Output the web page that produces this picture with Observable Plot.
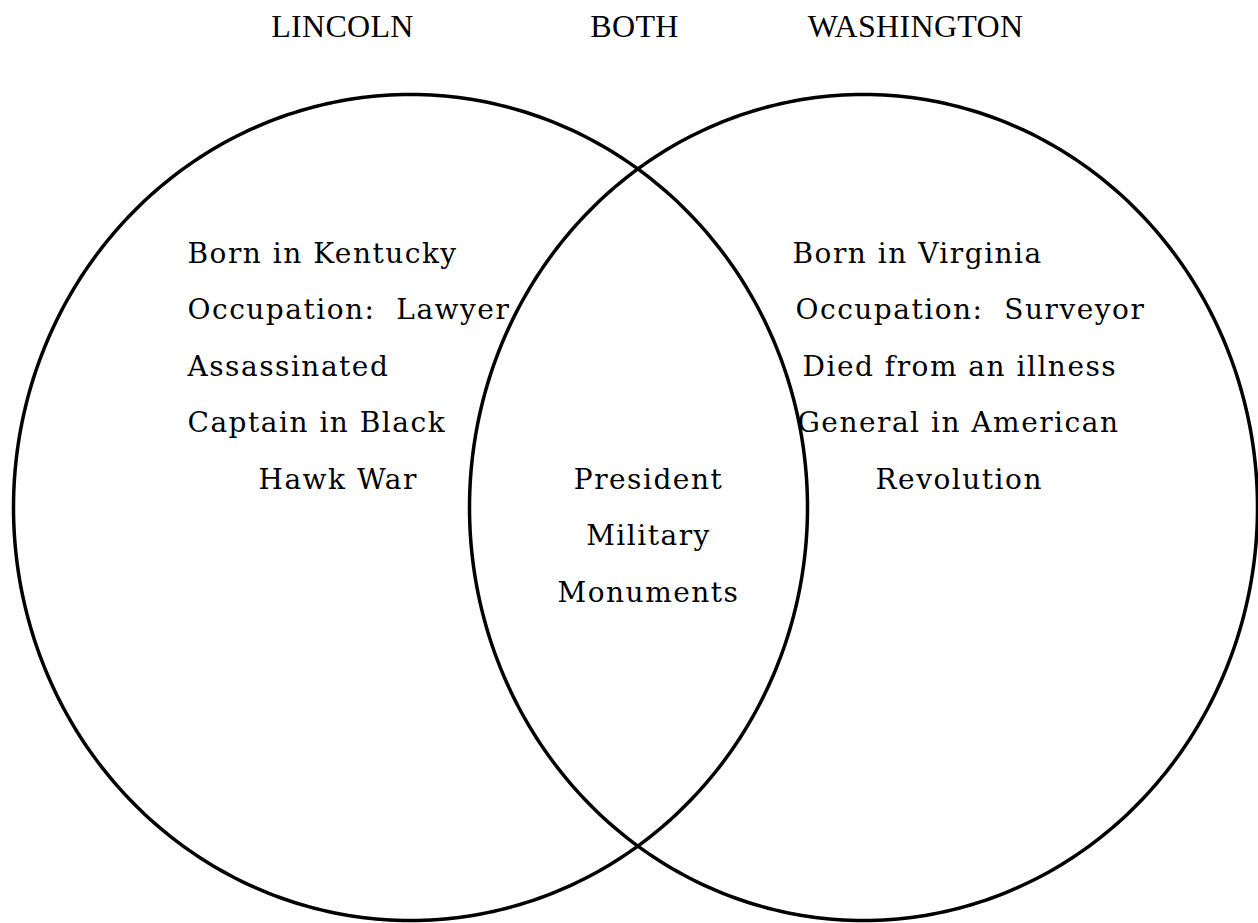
<!DOCTYPE html>
<html>
<head>
<meta charset="utf-8">
<script src="https://cdn.jsdelivr.net/npm/d3@7"></script>
<script src="https://cdn.jsdelivr.net/npm/@observablehq/plot@0.6"></script>
<style>
  html, body { margin: 0; padding: 0; background: #fff; }
  #chart svg text { white-space: pre; }
  #chart svg g[font-family="DejaVu Serif"] text { letter-spacing: 1.5px; }
  #chart svg g[font-family="Liberation Serif"] text { letter-spacing: 0.3px; }
</style>
</head>
<body>
<div id="chart"></div>
<script>
// Categories (set headers)
const headers = ["LINCOLN", "BOTH", "WASHINGTON"];
// Items in each region
const lincolnItems = ["Born in Kentucky", "Occupation:  Lawyer", "Assassinated", "Captain in Black", "Hawk War"];
const bothItems = ["President", "Military", "Monuments"];
const washingtonItems = ["Born in Virginia", "Occupation:  Surveyor", "Died from an illness", "General in American", "Revolution"];

// ---- layout (pixel coordinate space of the picture) ----
const W = 1258, H = 923;
const circles = [
  {set: "LINCOLN", cx: 410, cy: 507, rx: 397, ry: 413},
  {set: "WASHINGTON", cx: 863, cy: 507, rx: 394, ry: 413}
];
const ellipsePts = circles.flatMap(c =>
  d3.range(0, 361).map(i => {
    const t = i / 360 * 2 * Math.PI;
    return {set: c.set, x: c.cx + c.rx * Math.cos(t), y: c.cy + c.ry * Math.sin(t)};
  })
);

const headerX = [342, 634, 915];
const leftX = [187, 187, 187, 187, 258];
const rightX = [792, 795, 802, 797, 875];
const lineGap = 56.5, firstLine = 262;
const headerRows = headers.map((h, i) => ({label: h, x: headerX[i], y: 36}));
const leftRows = lincolnItems.map((t, i) => ({label: t, x: leftX[i], y: firstLine + i * lineGap}));
const rightRows = washingtonItems.map((t, i) => ({label: t, x: rightX[i], y: firstLine + i * lineGap}));
const midRows = bothItems.map((t, i) => ({label: t, x: 648, y: firstLine + (4 + i) * lineGap}));

const bodyFont = "DejaVu Serif";
const chart = Plot.plot({
  width: W,
  height: H,
  margin: 0,
  x: {domain: [0, W], range: [0, W], axis: null},
  y: {domain: [0, H], range: [0, H], axis: null},
  style: {background: "#fff", overflow: "hidden"},
  marks: [
    Plot.line(ellipsePts, {x: "x", y: "y", z: "set", stroke: "#000", strokeWidth: 3.5, curve: "linear-closed"}),
    Plot.text(headerRows, {x: "x", y: "y", text: "label", fontSize: 32, fontFamily: "Liberation Serif", fill: "#000", textAnchor: "middle", lineAnchor: "bottom"}),
    Plot.text(leftRows, {x: "x", y: "y", text: "label", fontSize: 28, fontFamily: bodyFont, fill: "#000", textAnchor: "start", lineAnchor: "bottom"}),
    Plot.text(rightRows, {x: "x", y: "y", text: "label", fontSize: 28, fontFamily: bodyFont, fill: "#000", textAnchor: "start", lineAnchor: "bottom"}),
    Plot.text(midRows, {x: "x", y: "y", text: "label", fontSize: 28, fontFamily: bodyFont, fill: "#000", textAnchor: "middle", lineAnchor: "bottom"})
  ]
});
document.getElementById("chart").appendChild(chart);
</script>
</body>
</html>
